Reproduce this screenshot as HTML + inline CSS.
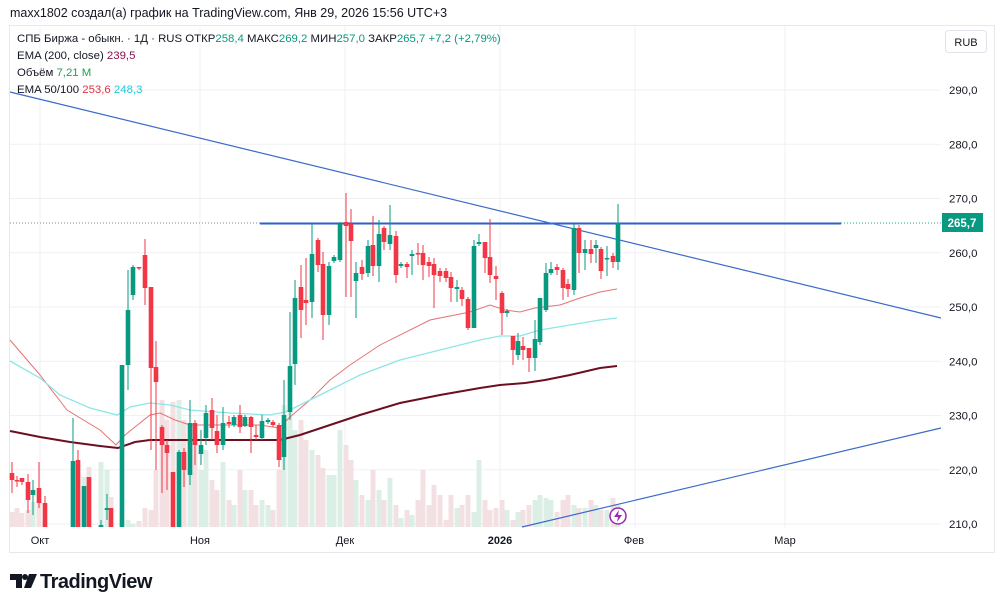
<!DOCTYPE html>
<html><head><meta charset="utf-8"><style>
body{margin:0;background:#fff;width:1000px;height:610px;overflow:hidden;font-family:"Liberation Sans",sans-serif;}
svg{position:absolute;left:0;top:0}
</style></head><body>
<svg id="s" width="1000" height="610" xmlns="http://www.w3.org/2000/svg" font-family="Liberation Sans, sans-serif">
<text x="10" y="17" font-size="12.5" fill="#131722">maxx1802 создал(а) график на TradingView.com, Янв 29, 2026 15:56 UTC+3</text>
<rect x="9.5" y="25.5" width="985" height="527" fill="none" stroke="#e6e8ed"/>
<g id="grid" stroke="#f0f1f4" stroke-width="1"></g>
<g id="vol"></g>
<g id="ema"></g>
<line x1="10" y1="223" x2="260" y2="223" stroke="#7a8aa0" stroke-width="1" stroke-dasharray="1,2"/>
<line x1="841" y1="223" x2="941" y2="223" stroke="#22ab94" stroke-width="1" stroke-dasharray="1,2"/>
<line x1="260" y1="223.5" x2="841" y2="223.5" stroke="#2962c8" stroke-width="2"/>
<line x1="10" y1="92" x2="941" y2="318" stroke="#3b6bc9" stroke-width="1.2"/>
<line x1="522" y1="527" x2="941" y2="428" stroke="#3b6bc9" stroke-width="1.2"/>
<g id="c"></g>
<circle cx="618" cy="516" r="8" fill="#fff" stroke="#9c27b0" stroke-width="1.5"/>
<path d="M619,510 L614,517 L618,517 L617,522 L622,515 L618,515 Z" fill="#9c27b0"/>
<g font-size="11.4" fill="#131722">
<text x="17" y="42">СПБ Биржа - обыкн. · 1Д · RUS  ОТКР<tspan fill="#089981">258,4</tspan>  МАКС<tspan fill="#089981">269,2</tspan>  МИН<tspan fill="#089981">257,0</tspan>  ЗАКР<tspan fill="#089981">265,7</tspan>  <tspan fill="#089981">+7,2 (+2,79%)</tspan></text>
<text x="17" y="59">EMA (200, close)  <tspan fill="#880e4f">239,5</tspan></text>
<text x="17" y="76">Объём  <tspan fill="#22a053">7,21 M</tspan></text>
<text x="17" y="93">EMA 50/100  <tspan fill="#e0333f">253,6</tspan>  <tspan fill="#26c6da">248,3</tspan></text>
</g>
<rect x="945.5" y="30.5" width="41" height="22" rx="3" fill="#fff" stroke="#e0e3eb"/>
<text x="966" y="46" font-size="11" text-anchor="middle" fill="#131722">RUB</text>
<g id="axis" font-size="11.4" fill="#131722"></g>
<rect x="942" y="213" width="41" height="19" fill="#089981"/>
<text x="962" y="227" font-size="11.5" font-weight="bold" text-anchor="middle" fill="#fff">265,7</text>
<g font-size="11" fill="#131722" text-anchor="middle">
<text x="40" y="544">Окт</text><text x="200" y="544">Ноя</text><text x="345" y="544">Дек</text>
<text x="500" y="544" font-weight="bold">2026</text><text x="634" y="544">Фев</text><text x="785" y="544">Мар</text>
</g>
<g transform="translate(10,572)"><path d="M0,2 H12 V16 H6 V8 H0 Z" fill="#131722"/><circle cx="15" cy="5" r="3" fill="#131722"/><path d="M19,2 H27 L21,16 H14 Z" fill="#131722"/></g>
<text x="40" y="588" font-size="20" font-weight="bold" fill="#131722" letter-spacing="-0.5">TradingView</text>
</svg>
<script>
var NS="http://www.w3.org/2000/svg";
function el(p,t,a){var e=document.createElementNS(NS,t);for(var k in a)e.setAttribute(k,a[k]);document.getElementById(p).appendChild(e);return e;}
var prices=[290,280,270,260,250,240,230,220,210];
prices.forEach(function(p){var y=90+(290-p)*5.425;el("grid","line",{x1:10,x2:941,y1:y,y2:y});
var t=el("axis","text",{x:949,y:y+4});t.textContent=p+",0";});
[40,200,345,500,635,785].forEach(function(x){el("grid","line",{x1:x,x2:x,y1:26,y2:528});});
var C=[[12,473,480,462,493],[17,480,481,476,487],[22,478,482,478,485],[28,482,500,474,513],[33,495,490,480,515],[39,488,503,462,508],[45,503,527,496,527],
[73,527,461,418,527],[78,460,527,450,527],[84,527,486,486,527],[89,477,527,477,527],[101,527,525,520,527],[107,510,508,494,520],[111,508,527,508,527],
[122,527,365,365,527],[128,365,310,270,390],[133,295,267,265,300],[139,267,268,267,270],[145,255,288,239,305],[151,287,368,287,450],[156,367,382,341,470],
[162,427,445,425,493],[167,445,453,440,490],[173,472,527,472,527],[179,527,452,450,527],[184,452,470,448,487],[190,475,423,400,485],[195,423,445,420,465],
[201,454,445,430,465],[206,438,413,405,445],[212,410,428,398,440],[217,431,445,415,453],[223,445,423,407,450],[229,422,424,416,428],[234,425,417,415,427],
[240,415,427,405,433],[245,426,417,415,427],[251,417,427,416,453],[256,435,437,425,440],[262,438,421,415,440],[268,422,420,418,424],[273,422,425,420,427],
[279,425,460,423,467],[284,457,415,380,470],[290,412,366,312,420],[295,364,298,280,385],[301,287,310,265,338],[306,300,303,258,325],[312,302,254,224,318],
[318,240,265,238,272],[323,264,315,252,340],[329,315,266,262,325],[334,261,257,255,263],[340,260,224,222,262],[346,222,226,193,297],[351,224,241,209,297],
[356,281,273,262,318],[362,267,274,260,280],[368,273,246,240,277],[373,245,266,216,276],[379,266,234,220,282],[384,228,242,226,250],[390,244,235,205,250],
[396,236,275,231,283],[401,266,264,262,268],[407,264,267,262,278],[412,256,254,250,275],[418,253,254,243,265],[423,253,265,245,280],[429,262,266,257,277],
[434,264,275,258,308],[440,271,276,268,282],[446,271,278,268,282],[451,277,288,272,302],[457,289,287,280,302],[462,290,299,287,306],[468,299,328,297,330],
[474,328,246,240,328],[479,244,242,234,246],[485,242,258,242,273],[490,257,275,219,283],[496,276,279,266,300],[502,293,313,291,335],[507,313,311,309,317],
[513,336,350,336,365],[518,355,341,333,360],[523,346,350,337,360],[529,348,358,348,372],[535,358,339,320,371],[540,342,298,300,345],[546,310,273,263,312],
[551,273,269,262,275],[557,267,270,264,275],[563,270,288,268,300],[568,284,289,279,297],[574,290,228,224,295],[579,228,253,225,273],[585,253,249,240,270],
[591,249,254,240,263],[596,248,245,240,263],[601,249,271,247,279],[607,259,258,246,276],[613,256,262,253,268],[618,262,223,204,270]];
var V=[512,508,513,510,502,502,520,520,483,477,467,462,470,497,518,520,524,521,508,510,470,400,420,402,400,420,440,445,470,450,480,490,462,500,505,
470,490,490,505,500,505,510,470,405,410,430,420,440,450,455,468,475,475,430,445,460,480,495,500,470,490,500,478,505,518,510,515,500,470,505,485,495,
520,495,508,505,495,512,460,500,510,508,500,510,520,512,510,505,500,495,498,500,512,500,495,505,508,508,500,505,510,510,498,505,515,512,498];
C.forEach(function(c,i){var up=c[2]<c[1];var col=up?"#089981":"#f23645";
var vy=V[i]||505;el("vol","rect",{x:c[0]-2.5,y:vy,width:5,height:527-vy,fill:up?"#dcefe6":"#f2e0e3"});
el("c","line",{x1:c[0],x2:c[0],y1:c[3],y2:c[4],stroke:col,"stroke-width":1});
var t=Math.min(c[1],c[2]),b=Math.max(c[1],c[2]);el("c","rect",{x:c[0]-2.3,y:t,width:4.6,height:Math.max(1.5,b-t),fill:col});});
function pl(pts,col,w){el("ema","polyline",{points:pts.map(function(p){return p.join(",")}).join(" "),fill:"none",stroke:col,"stroke-width":w});}
pl([[10,340],[40,375],[67,410],[100,430],[116,445],[125,435],[150,415],[160,413],[175,420],[190,425],[230,425],[260,425],[279,428],[290,417],[310,400],[330,380],[350,365],[380,345],[430,320],[470,312],[490,305],[505,310],[520,312],[535,308],[560,305],[580,298],[600,292],[617,289]],"#e57373",1);
pl([[10,361],[40,378],[60,395],[90,408],[117,415],[130,407],[150,403],[170,405],[190,410],[230,413],[270,415],[285,412],[300,405],[330,390],[360,375],[400,360],[440,350],[480,340],[500,336],[520,336],[540,330],[570,325],[600,320],[617,318]],"#8ee6e6",1.3);
pl([[10,431],[40,437],[70,442],[100,446],[118,448],[135,442],[150,440],[200,440],[280,440],[300,435],[330,425],[360,415],[400,403],[440,395],[480,388],[500,385],[525,383],[545,380],[570,375],[600,368],[617,366]],"#6d0f1f",2);
</script>
</body></html>
